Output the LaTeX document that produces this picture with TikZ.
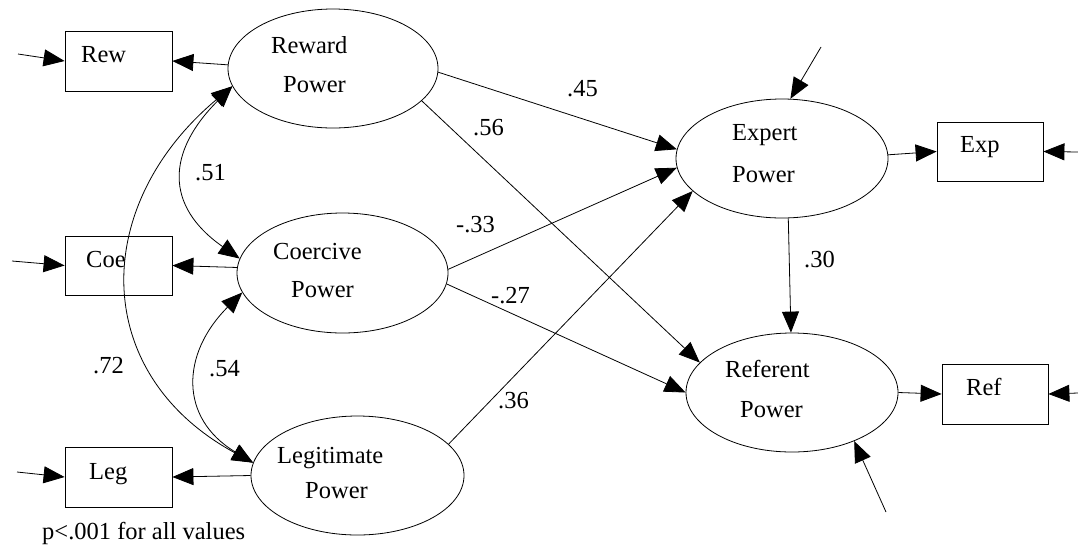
\documentclass[tikz,border=0pt]{standalone}
\usepackage{fontspec}
\setmainfont{Liberation Serif}
\usetikzlibrary{arrows.meta,shapes.geometric}
\begin{document}
\begin{tikzpicture}[x=1pt,y=-1pt,
  every node/.style={font=\fontsize{24.5}{29}\selectfont},
  lat/.style={draw, ellipse, inner sep=0pt, line width=0.8pt},
  obs/.style={draw, rectangle, inner sep=0pt, line width=0.8pt, minimum width=107pt, minimum height=60pt},
  txt/.style={anchor=base west, inner sep=0pt},
  arr/.style={line width=0.8pt, -{Triangle[length=21pt,width=17pt]}},
  dbl/.style={line width=0.8pt, {Triangle[length=21pt,width=17pt]}-{Triangle[length=21pt,width=17pt]}},
]
\useasboundingbox (0,0) rectangle (1078,550);

% latent variables
\node[lat, minimum width=210pt, minimum height=119pt] (reward) at (333,68.5) {};
\node[lat, minimum width=211pt, minimum height=120pt] (coercive) at (342.5,273) {};
\node[lat, minimum width=213pt, minimum height=119pt] (legit) at (357.5,475.5) {};
\node[lat, minimum width=212pt, minimum height=119pt] (expert) at (782,158.5) {};
\node[lat, minimum width=212pt, minimum height=119pt] (referent) at (792,392.5) {};

% observed variables
\node[obs] (rew) at (118.5,61) {};
\node[obs, minimum height=59pt] (coe) at (118.5,265.5) {};
\node[obs] (leg) at (118.5,477) {};
\node[obs, minimum width=106pt, minimum height=59pt] (exp) at (990,151.5) {};
\node[obs, minimum width=106pt] (ref) at (995,394) {};

% texts
\node[txt] (t1a) at (271,53) {Reward};
\node[txt] (t1b) at (283,92) {Power};
\node[txt] (t2a) at (273,259) {Coercive};
\node[txt] (t2b) at (291,297) {Power};
\node[txt] (t3a) at (277,463) {Legitimate};
\node[txt] (t3b) at (305,498) {Power};
\node[txt] (t4a) at (732,140) {Expert};
\node[txt] (t4b) at (732,182) {Power};
\node[txt] (t5a) at (725,377) {Referent};
\node[txt] (t5b) at (740,417) {Power};
\node[txt] (trew) at (81,62) {Rew};
\node[txt] (tcoe) at (86,267) {Coe};
\node[txt] (tleg) at (89,479) {Leg};
\node[txt] (texp) at (960,152) {Exp};
\node[txt] (tref) at (966,395) {Ref};

% free ends
\coordinate (erew) at (18,54);
\coordinate (ecoe) at (12,261);
\coordinate (eleg) at (17,472);
\coordinate (eexp) at (1078,152);
\coordinate (eref) at (1078,393);
\coordinate (dexp) at (821,47);
\coordinate (dref) at (886,512);

% measurement and error arrows
\draw[arr] (erew) -- (rew.west);
\draw[arr] (ecoe) -- (coe.west);
\draw[arr] (eleg) -- (leg.west);
\draw[arr] (reward.178) -- (rew.east);
\draw[arr] (coercive.177) -- (coe.east);
\draw[arr] (legit.west) -- (leg.east);
\draw[arr] (expert.2) -- (exp.west);
\draw[arr] (referent.east) -- (ref.west);
\draw[arr] (eexp) -- (exp.east);
\draw[arr] (eref) -- (ref.east);
\draw[arr] (dexp) -- (expert.82);
\draw[arr] (dref) -- (referent.-38);

% structural paths
\draw[arr] (reward.-2) -- (expert.175);
\draw[arr] (reward.-20.5) -- (referent.162);
\draw[arr] (coercive.2) -- (expert.185);
\draw[arr] (coercive.-6.4) -- (referent.180);
\draw[arr] (legit.19) -- (expert.200);
\draw[arr] (expert.-84) -- (referent.91);

% correlations
\draw[dbl] (reward.190) to[out=225,in=145,looseness=1.37] (coercive.172);
\draw[dbl] (reward.190) to[out=220,in=151.5,looseness=1.26] (legit.173);
\draw[dbl] (coercive.-169) to[out=225,in=149,looseness=1.30] (legit.173);

% coefficients
\node[txt] (c45) at (567,96) {.45};
\node[txt] (c56) at (473,135) {.56};
\node[txt] (c33) at (456,232) {-.33};
\node[txt] (c27) at (491,303) {-.27};
\node[txt] (c36) at (498,408) {.36};
\node[txt] (c30) at (804,267) {.30};
\node[txt] (c51) at (195,180) {.51};
\node[txt] (c72) at (93,373) {.72};
\node[txt] (c54) at (209,376) {.54};
\node[txt] (note) at (42,539) {p<.001 for all values};
\end{tikzpicture}
\end{document}
